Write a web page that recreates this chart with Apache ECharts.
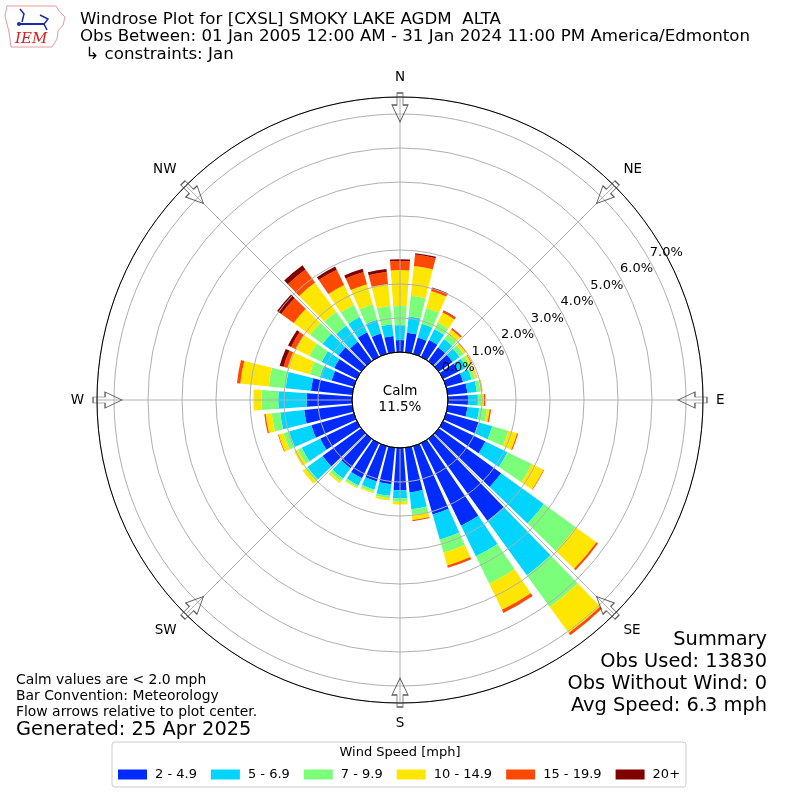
<!DOCTYPE html>
<html><head><meta charset="utf-8">
<script src="https://cdn.jsdelivr.net/npm/echarts@6/dist/echarts.min.js"></script>
<style>html,body{margin:0;padding:0;background:#fff}#c{width:800px;height:800px}</style>
</head><body><div id="c"></div>
<script>
// ---------- data ----------
const directions = [0,10,20,30,40,50,60,70,80,90,100,110,120,130,140,150,160,170,180,190,200,210,220,230,240,250,260,270,280,290,300,310,320,330,340,350];
const speedBins = ['2 - 4.9','5 - 6.9','7 - 9.9','10 - 14.9','15 - 19.9','20+'];
const speed2to5   = [0.35,0.58,0.50,0.55,0.50,0.50,0.50,0.52,0.58,0.59,0.58,0.99,1.38,2.26,2.97,2.70,2.09,1.32,1.24,1.08,1.08,1.15,1.07,1.40,1.20,1.30,1.42,1.33,1.22,0.68,0.74,0.82,0.70,0.80,0.62,0.48];
const speed5to7   = [0.44,0.48,0.42,0.35,0.30,0.25,0.25,0.26,0.28,0.29,0.35,0.42,0.72,1.55,1.98,1.00,0.77,0.50,0.24,0.34,0.25,0.23,0.37,0.55,0.60,0.68,0.71,0.84,0.75,0.36,0.41,0.58,0.58,0.50,0.42,0.35];
const speed7to10  = [0.56,0.61,0.48,0.22,0.18,0.15,0.13,0.10,0.11,0.11,0.23,0.49,0.80,1.16,1.15,0.90,0.40,0.17,0.10,0.08,0.07,0.06,0.11,0.07,0.13,0.17,0.25,0.49,0.50,0.31,0.40,0.45,0.51,0.40,0.47,0.54];
const speed10to15 = [1.06,0.88,0.52,0.33,0.17,0.08,0.07,0.06,0.05,0.07,0.08,0.27,0.38,0.75,0.95,0.85,0.39,0.15,0.08,0.06,0.04,0.03,0.06,0.11,0.12,0.15,0.18,0.24,0.84,0.68,0.45,0.60,1.06,0.65,0.62,0.65];
const speed15to20 = [0.27,0.34,0.08,0.06,0.04,0.02,0.02,0.01,0.01,0.04,0.04,0.03,0.02,0.06,0.08,0.10,0.07,0.03,0,0,0,0,0,0,0,0.02,0.04,0,0.10,0.12,0.15,0.45,0.48,0.50,0.37,0.35];
const speed20plus = [0.05,0.04,0.03,0.01,0.01,0,0,0,0,0,0,0,0,0,0,0,0,0,0,0,0,0,0,0,0,0,0,0,0,0.12,0.10,0.15,0.15,0.10,0.10,0.09];
const compassLabels = ['N','NE','E','SE','S','SW','W','NW'];
const compassBearings = [0,45,90,135,180,225,270,315];
const calmPct = 11.5;
const summaryLines = ['Summary','Obs Used: 13830','Obs Without Wind: 0','Avg Speed: 6.3 mph'];
const noteLines = ['Calm values are < 2.0 mph','Bar Convention: Meteorology','Flow arrows relative to plot center.'];
const generatedText = 'Generated: 25 Apr 2025';
const titleLines = ['Windrose Plot for [CXSL] SMOKY LAKE AGDM  ALTA','Obs Between: 01 Jan 2005 12:00 AM - 31 Jan 2024 11:00 PM America/Edmonton',' \u21b3 constraints: Jan'];

// ---------- styling ----------
const binColors = ['#002BFF','#00D4FF','#7BFF7B','#FFE600','#FF4900','#800000'];
const seriesData = [speed2to5, speed5to7, speed7to10, speed10to15, speed15to20, speed20plus];
const FONT = '"DejaVu Sans", "Liberation Sans", sans-serif';
const R_IN = 48, R_OUT = 303, RMAX = 7.5;
const PX_PER_PCT = (R_OUT - R_IN) / RMAX;
const LABEL_SHIFT = 18.5;
const arrowPath = 'path://M5 0 L11 0 L11 12 L16 12 L8 29 L0 12 L5 12 Z';

const chart = echarts.init(document.getElementById('c'), null, {renderer: 'canvas'});

const barSeries = speedBins.map((name, i) => ({
  name, type: 'bar', coordinateSystem: 'polar', polarIndex: 0, stack: 'ws',
  data: seriesData[i], barCategoryGap: '18%',
  itemStyle: {color: binColors[i]}, z: 2, silent: true
}));

const option = {
  animation: false,
  backgroundColor: '#fff',
  textStyle: {fontFamily: FONT},
  polar: [
    {center: [400, 400], radius: [R_IN, R_OUT]},
    {center: [400, 400], radius: [R_IN, R_OUT]},
    {center: [400, 400], radius: [R_IN + LABEL_SHIFT, R_IN + LABEL_SHIFT + PX_PER_PCT * RMAX]},
    {center: [400, 400], radius: [0, R_IN]}
  ],
  angleAxis: [
    {polarIndex: 0, type: 'category', data: directions.map(String), startAngle: 95, clockwise: true,
     axisLine: {show: false}, axisTick: {show: false}, axisLabel: {show: false}, splitLine: {show: false}},
    {polarIndex: 1, type: 'value', min: 0, max: 360, interval: 45, startAngle: 90, clockwise: true, z: 5,
     axisLine: {show: true, lineStyle: {color: '#000', width: 1}},
     axisTick: {show: false},
     axisLabel: {show: true, margin: 13, color: '#000', fontSize: 13.5, fontFamily: FONT,
       formatter: v => { const k = compassBearings.indexOf(v % 360); return k >= 0 ? compassLabels[k] : ''; }},
     splitLine: {show: true, lineStyle: {color: '#b0b0b0', width: 1}}},
    {polarIndex: 2, type: 'value', min: 0, max: 360, startAngle: 29, show: false},
    {polarIndex: 3, type: 'value', min: 0, max: 360, startAngle: 90, z: 6,
     axisLine: {show: true, lineStyle: {color: '#000', width: 1}},
     axisTick: {show: false}, axisLabel: {show: false}, splitLine: {show: false}}
  ],
  radiusAxis: [
    {polarIndex: 0, type: 'value', min: 0, max: RMAX, show: false},
    {polarIndex: 1, type: 'value', min: 0, max: RMAX, interval: 1, z: 5,
     axisLine: {show: false}, axisTick: {show: false}, axisLabel: {show: false},
     splitLine: {show: true, lineStyle: {color: '#b0b0b0', width: 1}}},
    {polarIndex: 2, type: 'value', min: 0, max: RMAX, interval: 1, z: 7,
     axisLine: {show: false}, axisTick: {show: false}, splitLine: {show: false},
     axisLabel: {show: true, margin: 0, align: 'center', verticalAlign: 'middle', color: '#000', fontSize: 13, fontFamily: FONT,
       formatter: v => (Math.abs(v - Math.round(v)) < 1e-9 && v <= 7) ? v.toFixed(1) + '%' : ''}},
    {polarIndex: 3, type: 'value', min: 0, max: 1, show: false}
  ],
  legend: {
    data: speedBins, left: 112, top: 742, orient: 'horizontal',
    icon: 'rect', itemWidth: 29, itemHeight: 10, itemGap: 14,
    padding: [26, 6, 6, 6], borderColor: '#cccccc', borderWidth: 1, borderRadius: 3,
    backgroundColor: '#fff',
    textStyle: {fontSize: 13, color: '#000', fontFamily: FONT, padding: [0, 0, 0, 3]},
    selectedMode: false
  },
  series: barSeries.concat([{
    type: 'scatter', coordinateSystem: 'polar', polarIndex: 1, z: 10, silent: true,
    symbol: arrowPath, symbolSize: [16, 29],
    itemStyle: {color: 'rgba(255,255,255,0)', borderColor: '#333', borderWidth: 1},
    data: compassBearings.map(b => ({value: [7.19, b], symbolRotate: -b}))
  }]),
  graphic: [
    // logo
    {type: 'polygon', shape: {points: [[7,6],[56,6],[59,11],[65,17],[63,25],[58,31],[57,39],[52,47],[11,47],[9,32],[5,16]]},
     style: {fill: '#fff', stroke: '#e89a9a', lineWidth: 1}},
    {type: 'polyline', shape: {points: [[19,24],[44,24]]}, style: {stroke: '#1a2aa8', lineWidth: 2}},
    {type: 'polyline', shape: {points: [[20,9],[24,14],[22,22]]}, style: {stroke: '#1a2aa8', lineWidth: 1.5, fill: null}},
    {type: 'polyline', shape: {points: [[40,15],[48,19],[44,24],[47,30]]}, style: {stroke: '#1a2aa8', lineWidth: 1.5, fill: null}},
    {type: 'circle', shape: {cx: 19, cy: 24, r: 2}, style: {fill: '#1a2aa8'}},
    {type: 'text', style: {x: 15, y: 39, text: 'IEM', font: 'italic 15px "DejaVu Serif", serif', fill: '#d42020', verticalAlign: 'middle'}},
    // title
    {type: 'text', style: {x: 80, y: 20, text: titleLines[0], font: '16.67px ' + FONT, fill: '#000', verticalAlign: 'middle'}},
    {type: 'text', style: {x: 80, y: 37, text: titleLines[1], font: '16.67px ' + FONT, fill: '#000', verticalAlign: 'middle'}},
    {type: 'text', style: {x: 80, y: 55, text: titleLines[2], font: '16.67px ' + FONT, fill: '#000', verticalAlign: 'middle'}},
    // calm
    {type: 'text', z: 20, style: {x: 400, y: 391, text: 'Calm', font: '13.5px ' + FONT, fill: '#000', align: 'center', verticalAlign: 'middle'}},
    {type: 'text', z: 20, style: {x: 400, y: 407, text: calmPct.toFixed(1) + '%', font: '13.5px ' + FONT, fill: '#000', align: 'center', verticalAlign: 'middle'}},
    // notes
    {type: 'text', style: {x: 16, y: 680, text: noteLines[0], font: '13.9px ' + FONT, fill: '#000', verticalAlign: 'middle'}},
    {type: 'text', style: {x: 16, y: 696, text: noteLines[1], font: '13.9px ' + FONT, fill: '#000', verticalAlign: 'middle'}},
    {type: 'text', style: {x: 16, y: 712, text: noteLines[2], font: '13.9px ' + FONT, fill: '#000', verticalAlign: 'middle'}},
    {type: 'text', style: {x: 16, y: 730, text: generatedText, font: '19.4px ' + FONT, fill: '#000', verticalAlign: 'middle'}},
    // summary
    {type: 'text', style: {x: 767, y: 640, text: summaryLines[0], font: '19.4px ' + FONT, fill: '#000', align: 'right', verticalAlign: 'middle'}},
    {type: 'text', style: {x: 767, y: 662, text: summaryLines[1], font: '19.4px ' + FONT, fill: '#000', align: 'right', verticalAlign: 'middle'}},
    {type: 'text', style: {x: 767, y: 684, text: summaryLines[2], font: '19.4px ' + FONT, fill: '#000', align: 'right', verticalAlign: 'middle'}},
    {type: 'text', style: {x: 767, y: 706, text: summaryLines[3], font: '19.4px ' + FONT, fill: '#000', align: 'right', verticalAlign: 'middle'}},
    // legend title
    {type: 'text', z: 100, style: {x: 400, y: 753, text: 'Wind Speed [mph]', font: '13px ' + FONT, fill: '#000', align: 'center', verticalAlign: 'middle'}}
  ]
};
chart.setOption(option);
</script>
</body></html>
